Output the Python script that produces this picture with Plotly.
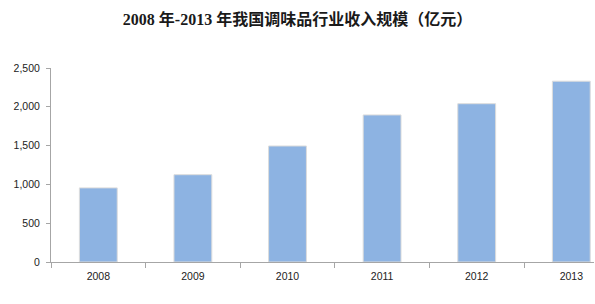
import plotly.graph_objects as go

years = ["2008", "2009", "2010", "2011", "2012", "2013"]
revenue = [955, 1125, 1495, 1895, 2040, 2330]
y_ticks = [0, 500, 1000, 1500, 2000, 2500]
y_tick_labels = ["0", "500", "1,000", "1,500", "2,000", "2,500"]
title_text = "2008 年-2013 年我国调味品行业收入规模（亿元）"

fig = go.Figure()
fig.add_trace(go.Bar(
    x=years, y=revenue, width=0.4,
    marker=dict(color="#8DB3E2", line=dict(color="#dcdcdc", width=1)),
))

fig.update_layout(
    width=595, height=304,
    margin=dict(l=51, r=1, t=68, b=42),
    paper_bgcolor="white", plot_bgcolor="white",
    showlegend=False,
    title=dict(text=title_text, x=0.5, xanchor="center", y=0.935, yanchor="middle",
               font=dict(family="Liberation Serif, Noto Sans CJK SC", size=16, color="#1a1a1a", weight="bold")),
    font=dict(family="Liberation Sans, Arial", size=10, color="#222"),
)
fig.update_xaxes(
    type="category", range=[-0.5, 5.24],
    showline=True, linecolor="#a6a6a6", linewidth=1,
    ticks="outside", ticklen=5, tickcolor="#a6a6a6", tickson="boundaries",
    showgrid=False, tickfont=dict(size=10.5), ticklabelstandoff=4,
)
fig.update_yaxes(
    range=[0, 2500], tickvals=y_ticks, ticktext=y_tick_labels,
    showline=True, linecolor="#a6a6a6", linewidth=1,
    ticks="outside", ticklen=4, tickcolor="#a6a6a6",
    showgrid=False, zeroline=False, tickfont=dict(size=10.5), ticklabelstandoff=4,
)

fig.write_html("out.html")
